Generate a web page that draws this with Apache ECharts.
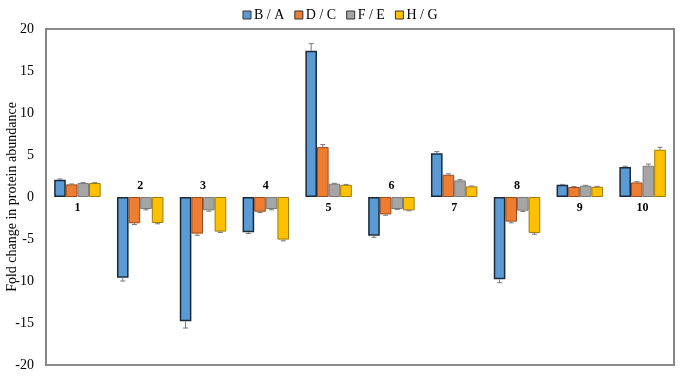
<!DOCTYPE html>
<html>
<head>
<meta charset="utf-8">
<script src="https://cdn.jsdelivr.net/npm/echarts@6/dist/echarts.min.js"></script>
<style>
  html, body { margin: 0; padding: 0; background: #fff; }
  #chart { width: 680px; height: 376px; }
</style>
</head>
<body>
<div id="chart"></div>
<script>
// 数据
var groups = ["1", "2", "3", "4", "5", "6", "7", "8", "9", "10"];
var seriesNames = ["B / A", "D / C", "F / E", "H / G"];
var ratioBA = [2.05, -9.6, -14.8, -4.2, 17.4, -4.6, 5.2, -9.8, 1.45, 3.56];
var ratioDC = [1.5, -3.13, -4.36, -1.75, 5.94, -2.07, 2.65, -2.93, 1.19, 1.73];
var ratioFE = [1.66, -1.43, -1.59, -1.43, 1.58, -1.43, 1.97, -1.63, 1.34, 3.72];
var ratioHG = [1.66, -3.09, -4.12, -5.07, 1.45, -1.59, 1.26, -4.28, 1.22, 5.62];
var errBA = [0.1, 0.4, 0.8, 0.15, 0.85, 0.2, 0.2, 0.4, 0.05, 0.1];
var errDC = [0.05, 0.15, 0.2, 0.1, 0.3, 0.1, 0.1, 0.15, 0.05, 0.1];
var errFE = [0.05, 0.1, 0.1, 0.1, 0.05, 0.05, 0.1, 0.1, 0.05, 0.2];
var errHG = [0.05, 0.1, 0.1, 0.15, 0.05, 0.05, 0.05, 0.15, 0.05, 0.3];
var yTicks = [-20, -15, -10, -5, 0, 5, 10, 15, 20];
var yTitle = "Fold change in protein abundance";

var values = [ratioBA, ratioDC, ratioFE, ratioHG];
var errors = [errBA, errDC, errFE, errHG];
var colors = ["#5B9BD5", "#ED7D31", "#A5A5A5", "#FFC000"];
var borders = ["#1b2a3a", "#9a4a1a", "#7a7a7a", "#a07a00"];
var serif = "'Liberation Serif', 'DejaVu Serif', serif";

var series = [];
for (var s = 0; s < 4; s++) {
  series.push({
    name: seriesNames[s],
    type: "bar",
    data: values[s],
    barGap: "0%",
    barCategoryGap: "26%",
    itemStyle: {
      color: colors[s],
      borderColor: borders[s],
      borderWidth: s === 0 ? 1.5 : 1
    }
  });
}

// 误差线
var errData = [];
for (var s = 0; s < 4; s++) {
  for (var i = 0; i < groups.length; i++) {
    errData.push([i, values[s][i], errors[s][i], s]);
  }
}
series.push({
  type: "custom",
  name: "err",
  data: errData,
  z: 5,
  renderItem: function (params, api) {
    var idx = api.value(0);
    var v = api.value(1);
    var e = api.value(2);
    var s = api.value(3);
    var bandW = api.size([1, 0])[0];
    var barW = bandW * 0.74 / 4;
    var cx = api.coord([idx, 0])[0] - bandW * 0.74 / 2 + barW * (s + 0.5);
    var p1 = api.coord([idx, v])[1];
    var p2 = api.coord([idx, v + (v >= 0 ? e : -e)])[1];
    var style = { stroke: "#777", lineWidth: 1 };
    return {
      type: "group",
      children: [
        { type: "line", shape: { x1: cx, y1: p1, x2: cx, y2: p2 }, style: style },
        { type: "line", shape: { x1: cx - 2.5, y1: p2, x2: cx + 2.5, y2: p2 }, style: style }
      ]
    };
  }
});

// 组标签
var labelData = [];
for (var i = 0; i < groups.length; i++) {
  labelData.push([i, ratioBA[i] >= 0 ? -1 : 1]);
}
series.push({
  type: "custom",
  name: "lbl",
  data: labelData,
  z: 6,
  renderItem: function (params, api) {
    var idx = api.value(0);
    var dir = api.value(1);
    var p = api.coord([idx, 0]);
    return {
      type: "text",
      x: p[0],
      y: p[1] - dir * 11,
      style: {
        text: groups[idx],
        fill: "#000",
        font: "bold 12px " + serif,
        align: "center",
        verticalAlign: "middle"
      }
    };
  }
});

var option = {
  backgroundColor: "#ffffff",
  animation: false,
  legend: {
    data: seriesNames,
    top: 3,
    left: "center",
    icon: "rect",
    itemWidth: 8,
    itemHeight: 8,
    itemGap: 10,
    textStyle: { fontFamily: serif, fontSize: 14, color: "#000", padding: [0, 0, 0, -2] },
    itemStyle: { borderColor: "#333", borderWidth: 1 }
  },
  grid: {
    left: 46,
    right: 6,
    top: 29,
    bottom: 11,
    containLabel: false,
    outerBoundsMode: "none",
    show: true,
    borderColor: "#888",
    borderWidth: 2,
    backgroundColor: "transparent"
  },
  graphic: [{
    type: "text",
    x: 12,
    y: 197,
    rotation: Math.PI / 2,
    style: {
      text: yTitle,
      font: "14px " + serif,
      fill: "#000",
      align: "center",
      verticalAlign: "middle"
    }
  }],
  xAxis: {
    type: "category",
    data: groups,
    axisLine: { show: false },
    axisTick: { show: false },
    axisLabel: { show: false }
  },
  yAxis: {
    type: "value",
    min: yTicks[0],
    max: yTicks[yTicks.length - 1],
    interval: 5,
    axisLine: { show: false },
    axisTick: { show: false },
    splitLine: { show: false },
    axisLabel: { fontFamily: serif, fontSize: 14, color: "#000", margin: 12 }
  },
  series: series
};

var myChart = echarts.init(document.getElementById("chart"));
myChart.setOption(option);
</script>
</body>
</html>
